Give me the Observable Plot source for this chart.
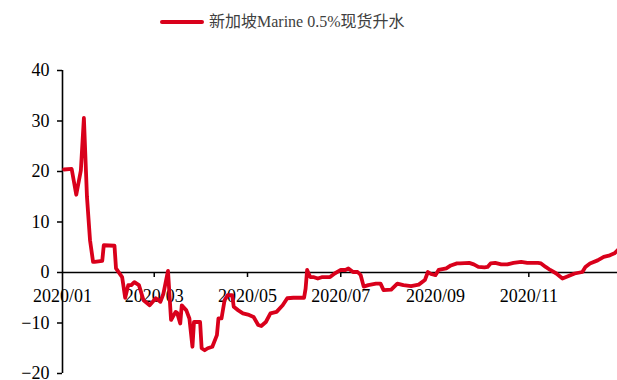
<!DOCTYPE html>
<html>
<head>
<meta charset="utf-8">
<script src="https://cdn.jsdelivr.net/npm/d3@7"></script>
<script src="https://cdn.jsdelivr.net/npm/@observablehq/plot@0.6"></script>
<style>
  html, body { margin: 0; padding: 0; background: #fff; }
  #wrap { width: 617px; height: 380px; position: relative; overflow: hidden; }
  #legend { height: 45px; position: relative; font-family: "Liberation Serif", "Noto Sans CJK SC", serif; font-size: 16px; color: #404040; }
  #legend .sw { position: absolute; left: 160px; top: 20px; width: 44px; height: 4px; background: #d9001b; border-radius: 2px; }
  #legend .tx { position: absolute; left: 209px; top: 11px; line-height: 22px; white-space: nowrap; }
</style>
</head>
<body>
<div id="wrap">
  <div id="legend"><div class="sw"></div><div class="tx" id="legendText"></div></div>
  <div id="chart"></div>
</div>
<script>
const seriesName = "新加坡Marine 0.5%现货升水";
const dates = ["2020-01-02","2020-01-07","2020-01-10","2020-01-13","2020-01-15","2020-01-17","2020-01-19","2020-01-21","2020-01-22","2020-01-27","2020-01-28","2020-02-04","2020-02-05","2020-02-09","2020-02-11","2020-02-13","2020-02-15","2020-02-17","2020-02-20","2020-02-23","2020-02-27","2020-03-02","2020-03-05","2020-03-07","2020-03-10","2020-03-12","2020-03-15","2020-03-16","2020-03-18","2020-03-19","2020-03-22","2020-03-24","2020-03-26","2020-03-27","2020-03-31","2020-04-01","2020-04-03","2020-04-05","2020-04-08","2020-04-11","2020-04-12","2020-04-14","2020-04-16","2020-04-18","2020-04-21","2020-04-22","2020-04-25","2020-04-28","2020-05-02","2020-05-05","2020-05-08","2020-05-10","2020-05-13","2020-05-16","2020-05-20","2020-05-24","2020-05-27","2020-05-31","2020-06-07","2020-06-08","2020-06-09","2020-06-11","2020-06-13","2020-06-16","2020-06-19","2020-06-24","2020-06-27","2020-07-01","2020-07-04","2020-07-06","2020-07-09","2020-07-12","2020-07-14","2020-07-16","2020-07-19","2020-07-24","2020-07-27","2020-07-29","2020-08-03","2020-08-07","2020-08-11","2020-08-16","2020-08-21","2020-08-25","2020-08-27","2020-08-29","2020-09-01","2020-09-03","2020-09-08","2020-09-11","2020-09-15","2020-09-17","2020-09-23","2020-09-26","2020-09-29","2020-10-03","2020-10-05","2020-10-07","2020-10-10","2020-10-14","2020-10-18","2020-10-22","2020-10-27","2020-10-31","2020-11-07","2020-11-09","2020-11-12","2020-11-15","2020-11-19","2020-11-23","2020-11-27","2020-12-01","2020-12-06","2020-12-08","2020-12-11","2020-12-16","2020-12-20","2020-12-24","2020-12-27","2020-12-29"];
const values = [20.4,20.5,15.4,20.2,30.6,15.0,6.4,2.1,2.1,2.3,5.4,5.3,0.8,-0.9,-5.0,-2.5,-2.5,-1.9,-2.5,-5.5,-6.5,-5.1,-5.8,-4.2,0.3,-9.4,-7.8,-8.0,-10.1,-6.5,-7.5,-9.1,-14.7,-9.8,-9.8,-15.0,-15.4,-15.0,-14.7,-12.4,-9.1,-9.1,-5.5,-4.5,-4.5,-6.8,-7.5,-8.1,-8.4,-8.8,-10.4,-10.6,-9.8,-8.1,-7.8,-6.5,-5.1,-5.0,-5.0,-3.2,0.5,-0.9,-0.9,-1.2,-0.9,-0.9,-0.2,0.5,0.5,0.8,0.1,0.1,-0.5,-2.8,-2.5,-2.2,-2.2,-3.5,-3.4,-2.2,-2.5,-2.7,-2.4,-1.5,0.1,-0.3,-0.5,0.5,0.8,1.4,1.8,1.8,1.9,1.6,1.1,1.0,1.1,1.8,1.9,1.6,1.6,1.9,2.1,1.9,1.9,1.8,1.1,0.5,-0.2,-1.2,-0.7,-0.2,0.1,1.1,1.8,2.4,3.1,3.4,3.8,4.4];
const xTickLabels = ["2020/01","2020/03","2020/05","2020/07","2020/09","2020/11"];
const yTicks = [-20,-10,0,10,20,30,40];
const xDomain = ["2020-01-01","2020-12-29"];
const yDomain = [-20, 40];

document.getElementById("legendText").textContent = seriesName;

const parse = d3.utcParse("%Y-%m-%d");
const data = dates.map((d, i) => ({date: parse(d), value: values[i]}));
const xTicks = xTickLabels.map(s => d3.utcParse("%Y/%m")(s));

const font = "Liberation Serif, Times New Roman, serif";
const chart = Plot.plot({
  width: 617,
  height: 335,
  marginTop: 25,
  marginBottom: 7,
  marginLeft: 62,
  marginRight: 0,
  style: {fontFamily: font, fontSize: "18px", color: "#000", background: "transparent"},
  x: {type: "utc", domain: xDomain.map(parse), axis: null},
  y: {domain: yDomain},
  marks: [
    Plot.axisY({ticks: yTicks, tickSize: 5, tickPadding: 8, label: null, strokeWidth: 1.5, fontSize: 18}),
    Plot.ruleX([xDomain[0]].map(parse), {y1: yDomain[0], y2: yDomain[1], stroke: "#000", strokeWidth: 1.6}),
    Plot.ruleY([0], {stroke: "#000", strokeWidth: 1.6}),
    Plot.ruleX(xTicks.slice(1), {y1: 0, y2: 0, insetBottom: -5, stroke: "#000", strokeWidth: 1.5}),
    Plot.text(xTicks, {x: d => d, y: 0, dy: 24, text: (d, i) => xTickLabels[i], fill: "#000", fontSize: 18}),
    Plot.line(data, {x: "date", y: "value", stroke: "#d9001b", strokeWidth: 3.8, strokeLinejoin: "round", strokeLinecap: "round"})
  ]
});
document.getElementById("chart").appendChild(chart);
</script>
</body>
</html>
